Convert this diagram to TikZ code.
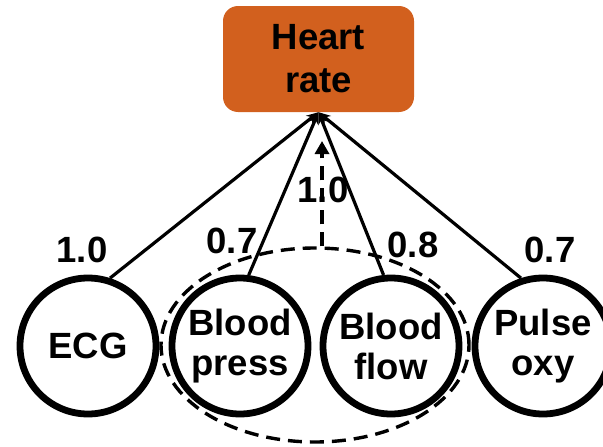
\documentclass[tikz,border=0pt]{standalone}
\usepackage{fontspec}
\setmainfont{Liberation Sans}
\usetikzlibrary{arrows.meta,shapes.geometric}
\definecolor{hrorange}{RGB}{210,96,30}
\begin{document}
\begin{tikzpicture}[x=1pt,y=-1pt,
  every node/.style={font=\fontsize{36.5}{40}\selectfont\bfseries, align=center, inner sep=0pt},
  target/.style={fill=hrorange, rounded corners=15pt, minimum width=191pt, minimum height=106pt,
                 font=\fontsize{36.5}{43}\selectfont\bfseries},
  sensor/.style={circle, draw, line width=6.8pt, minimum size=136pt},
  link/.style={line width=3.2pt, -{Stealth[length=12pt,width=10pt]}},
  grouped/.style={line width=3.4pt, dash pattern=on 14pt off 8pt},
  groupring/.style={grouped, ellipse, draw, minimum width=308pt, minimum height=194pt}
]
\useasboundingbox (0,0) rectangle (603,447);

% fused measurement
\node[target] (hr) at (318.5,59) {Heart\\rate};

% group of the two blood sensors
\node[groupring] (grp) at (315,345) {};

% sensors
\node[sensor] (ecg) at (88,346)  {ECG};
\node[sensor] (bp)  at (240,346) {Blood\\press};
\node[sensor] (bf)  at (391,346) {Blood\\flow};
\node[sensor] (po)  at (543,346) {Pulse\\oxy};

% links to the heart rate
\draw[link] (ecg.72)   -- (hr.south);
\draw[link] (bp.83.6)  -- (hr.south);
\draw[link] (bf.96.4)  -- (hr.south);
\draw[link] (po.108)   -- (hr.south);

% combined link of the group
\coordinate (gtip) at (322,141);
\draw[grouped, -{Triangle[width=14pt,length=13pt]}] (gtip |- grp.north) -- (gtip);

% weights
\node (wecg) at (82,250)  {1.0};
\node (wbp)  at (232,241) {0.7};
\node (wbf)  at (413,245) {0.8};
\node (wpo)  at (550,250) {0.7};
\node (wgrp) at (323,190) {1.0};
\end{tikzpicture}
\end{document}
